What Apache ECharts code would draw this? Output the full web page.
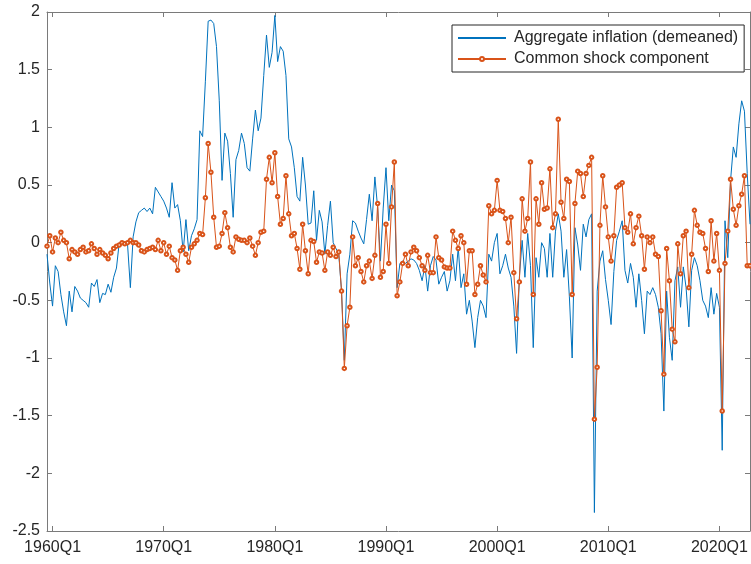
<!DOCTYPE html>
<html>
<head>
<meta charset="utf-8">
<script src="https://cdn.jsdelivr.net/npm/echarts@6/dist/echarts.min.js"></script>
<style>
  html, body { margin: 0; padding: 0; background: #fff; }
  #chart { width: 751px; height: 564px; }
</style>
</head>
<body>
<div id="chart"></div>
<script>
// Quarterly sample: 1959Q3 .. 2022Q4
const startYear = 1959;
const startQuarter = 3;
const nObs = 254;

// Aggregate inflation (demeaned)
const aggregateInflation = [
  -0.10, -0.35, -0.55, -0.20, -0.25, -0.45, -0.60, -0.72, -0.42, -0.60,
  -0.38, -0.42, -0.48, -0.50, -0.52, -0.56, -0.35, -0.38, -0.32, -0.52,
  -0.44, -0.45, -0.36, -0.43, -0.30, -0.22, 0.00, 0.00, -0.01, -0.02,
  -0.39, 0.05, 0.18, 0.26, 0.28, 0.30, 0.27, 0.30, 0.25, 0.48,
  0.44, 0.40, 0.36, 0.30, 0.22, 0.52, 0.30, 0.33, 0.19, -0.08,
  0.20, -0.07, 0.06, 0.12, 0.20, 0.97, 0.92, 1.40, 1.92, 1.93,
  1.90, 1.70, 1.23, 0.54, 0.95, 0.88, 0.60, 0.22, 0.72, 0.80,
  0.95, 0.86, 0.65, 0.62, 0.90, 1.15, 0.97, 1.08, 1.45, 1.80,
  1.52, 1.65, 1.97, 1.57, 1.70, 1.66, 1.45, 0.90, 0.83, 0.65,
  0.40, 0.36, 0.74, 0.50, 0.16, 0.17, 0.45, 0.02, 0.28, 0.18,
  -0.10, 0.15, 0.36, 0.00, -0.05, -0.10, -0.42, -1.02, -0.27, -0.10,
  0.19, 0.17, 0.10, 0.04, -0.01, 0.20, 0.42, 0.19, 0.57, 0.30,
  -0.16, 0.30, 0.65, 0.19, 0.50, 0.45, -0.39, -0.18, -0.16, -0.18,
  -0.16, -0.14, -0.15, -0.18, -0.24, -0.33, -0.20, -0.42, -0.20, -0.12,
  -0.15, -0.36, -0.30, -0.25, -0.42, -0.33, -0.10, -0.33, -0.04, -0.39,
  -0.27, -0.62, -0.50, -0.68, -0.91, -0.65, -0.50, -0.55, -0.65, -0.10,
  -0.16, 0.00, 0.08, -0.27, -0.20, -0.10, -0.22, -0.30, -0.55, -0.96,
  -0.30, 0.02, -0.30, 0.08, -0.20, -0.91, -0.13, -0.30, 0.00, -0.05,
  -0.30, 0.08, -0.30, 0.10, 0.25, 0.10, -0.30, -0.06, -0.47, -1.00,
  0.13, -0.02, -0.24, 0.16, 0.05, 0.20, 0.25, -2.34, -0.42, -0.16,
  -0.07, -0.32, -0.50, -0.71, -0.25, 0.02, 0.10, 0.19, -0.24, -0.35,
  -0.18, -0.30, -0.56, -0.27, -0.50, -0.79, -0.42, -0.45, -0.39, -0.45,
  -0.56, -0.79, -1.46, -0.42, -0.82, -1.02, -0.33, -0.21, -0.56, -0.21,
  -0.39, -0.73, -0.24, -0.13, -0.20, -0.33, -0.50, -0.55, -0.65, -0.39,
  -0.62, -0.44, -0.56, -1.80, 0.19, -0.13, 0.54, 0.83, 0.74, 1.03,
  1.23, 1.14, 0.60, 0.16
];

// Common shock component
const commonShock = [
  -0.03, 0.06, -0.08, 0.04, 0.00, 0.09, 0.02, 0.00, -0.14, -0.06,
  -0.08, -0.10, -0.06, -0.04, -0.08, -0.07, -0.01, -0.05, -0.10, -0.06,
  -0.09, -0.11, -0.14, -0.09, -0.05, -0.03, -0.02, 0.00, -0.01, 0.00,
  0.02, 0.00, 0.00, -0.02, -0.07, -0.08, -0.06, -0.05, -0.04, -0.06,
  0.02, -0.07, 0.00, -0.10, -0.03, -0.13, -0.15, -0.24, -0.07, -0.04,
  -0.10, -0.17, -0.04, -0.01, 0.02, 0.08, 0.07, 0.39, 0.86, 0.61,
  0.22, -0.04, -0.03, 0.08, 0.26, 0.13, -0.04, -0.08, 0.05, 0.03,
  0.02, 0.02, 0.00, 0.04, -0.03, -0.11, 0.00, 0.09, 0.10, 0.55,
  0.74, 0.52, 0.78, 0.40, 0.16, 0.21, 0.58, 0.25, 0.06, 0.08,
  -0.05, -0.23, 0.16, -0.07, -0.27, 0.02, 0.01, -0.17, -0.08, -0.09,
  -0.24, -0.08, -0.11, -0.04, -0.12, -0.08, -0.42, -1.09, -0.72, -0.56,
  0.05, -0.20, -0.13, -0.25, -0.34, -0.20, -0.16, -0.31, -0.11, 0.34,
  -0.30, -0.25, 0.16, -0.18, 0.31, 0.70, -0.46, -0.34, -0.18, -0.10,
  -0.20, -0.08, -0.04, -0.07, -0.13, -0.20, -0.24, -0.11, -0.26, -0.26,
  0.05, -0.13, -0.15, -0.21, -0.22, -0.22, 0.10, 0.02, -0.05, 0.06,
  0.00, -0.36, -0.07, -0.07, -0.45, -0.36, -0.20, -0.28, -0.34, 0.32,
  0.25, 0.28, 0.54, 0.28, 0.27, 0.21, 0.00, 0.22, -0.26, -0.66,
  -0.34, 0.38, 0.10, 0.21, 0.70, -0.45, 0.38, 0.16, 0.52, 0.29,
  0.30, 0.64, 0.13, 0.25, 1.07, 0.35, 0.21, 0.55, 0.53, -0.45,
  0.34, 0.62, 0.60, 0.40, 0.60, 0.67, 0.74, -1.53, -1.08, 0.15,
  0.58, 0.31, 0.05, -0.16, 0.06, 0.48, 0.50, 0.52, 0.13, 0.09,
  0.25, -0.01, 0.13, 0.23, 0.06, -0.23, 0.05, 0.00, 0.05, -0.10,
  -0.12, -0.59, -1.14, -0.05, -0.33, -0.75, -0.86, -0.01, -0.27, 0.06,
  0.10, -0.39, -0.10, 0.28, 0.15, 0.09, 0.08, -0.05, -0.25, 0.19,
  -0.16, 0.08, -0.24, -1.46, -0.18, 0.10, 0.55, 0.29, 0.15, 0.32,
  0.42, 0.58, -0.20, -0.20
];

// Labelled ticks on the date axis
const tickLabels = ['1960Q1', '1970Q1', '1980Q1', '1990Q1', '2000Q1', '2010Q1', '2020Q1'];

const seriesNames = ['Aggregate inflation (demeaned)', 'Common shock component'];

// Quarter labels for the category axis
const quarters = [];
for (let k = 0; k < nObs; k++) {
  const q = startQuarter - 1 + k;
  quarters.push((startYear + Math.floor(q / 4)) + 'Q' + (q % 4 + 1));
}

const AXIS_COLOR = '#7a7a7a';
const TEXT_COLOR = '#262626';
const FONT = '"Liberation Sans", Arial, Helvetica, sans-serif';
const isLabelled = (idx, val) => tickLabels.indexOf(val) >= 0;

const chart = echarts.init(document.getElementById('chart'), null, { renderer: 'canvas' });

const frameLine = { show: true, onZero: false, lineStyle: { color: AXIS_COLOR, width: 1 } };

chart.setOption({
  animation: false,
  backgroundColor: '#ffffff',
  textStyle: { fontFamily: FONT },
  grid: { left: 47, right: 1, top: 12, bottom: 33, containLabel: false },
  legend: {
    orient: 'vertical',
    left: 452,
    top: 25,
    padding: [5, 6, 5, 5],
    itemGap: 5,
    itemWidth: 48,
    itemHeight: 5,
    borderColor: '#262626',
    borderWidth: 1,
    borderRadius: 0,
    backgroundColor: '#ffffff',
    textStyle: { fontFamily: FONT, fontSize: 16, lineHeight: 16, color: TEXT_COLOR, padding: [0, 0, 0, 3] },
    data: [
      { name: seriesNames[0], itemStyle: { opacity: 0 } },
      { name: seriesNames[1] }
    ]
  },
  xAxis: [
    {
      type: 'category',
      data: quarters,
      boundaryGap: false,
      position: 'bottom',
      axisLine: frameLine,
      axisTick: { show: true, inside: true, length: 5, interval: isLabelled, lineStyle: { color: AXIS_COLOR } },
      axisLabel: { show: true, interval: isLabelled, margin: 9, fontSize: 16, color: TEXT_COLOR, fontFamily: FONT },
      splitLine: { show: false }
    },
    {
      type: 'category',
      data: quarters,
      boundaryGap: false,
      position: 'top',
      axisLine: frameLine,
      axisTick: { show: true, inside: true, length: 5, interval: isLabelled, lineStyle: { color: AXIS_COLOR } },
      axisLabel: { show: false },
      splitLine: { show: false }
    }
  ],
  yAxis: [
    {
      type: 'value',
      min: -2.5,
      max: 2,
      interval: 0.5,
      position: 'left',
      axisLine: frameLine,
      axisTick: { show: true, inside: true, length: 5, lineStyle: { color: AXIS_COLOR } },
      axisLabel: { show: true, margin: 7, fontSize: 16, color: TEXT_COLOR, fontFamily: FONT },
      splitLine: { show: false }
    },
    {
      type: 'value',
      min: -2.5,
      max: 2,
      interval: 0.5,
      position: 'right',
      axisLine: frameLine,
      axisTick: { show: true, inside: true, length: 5, lineStyle: { color: AXIS_COLOR } },
      axisLabel: { show: false },
      splitLine: { show: false }
    }
  ],
  series: [
    {
      name: seriesNames[0],
      type: 'line',
      xAxisIndex: 0,
      yAxisIndex: 0,
      data: aggregateInflation,
      showSymbol: false,
      symbol: 'none',
      color: '#0072BD',
      lineStyle: { width: 1, color: '#0072BD' },
      emphasis: { disabled: true }
    },
    {
      name: seriesNames[1],
      type: 'line',
      xAxisIndex: 0,
      yAxisIndex: 0,
      data: commonShock,
      symbol: 'emptyCircle',
      symbolSize: 3.5,
      showAllSymbol: true,
      color: '#D95319',
      itemStyle: { color: '#D95319', borderColor: '#D95319', borderWidth: 0.8 },
      lineStyle: { width: 1, color: '#D95319' },
      emphasis: { disabled: true }
    }
  ]
});
</script>
</body>
</html>
